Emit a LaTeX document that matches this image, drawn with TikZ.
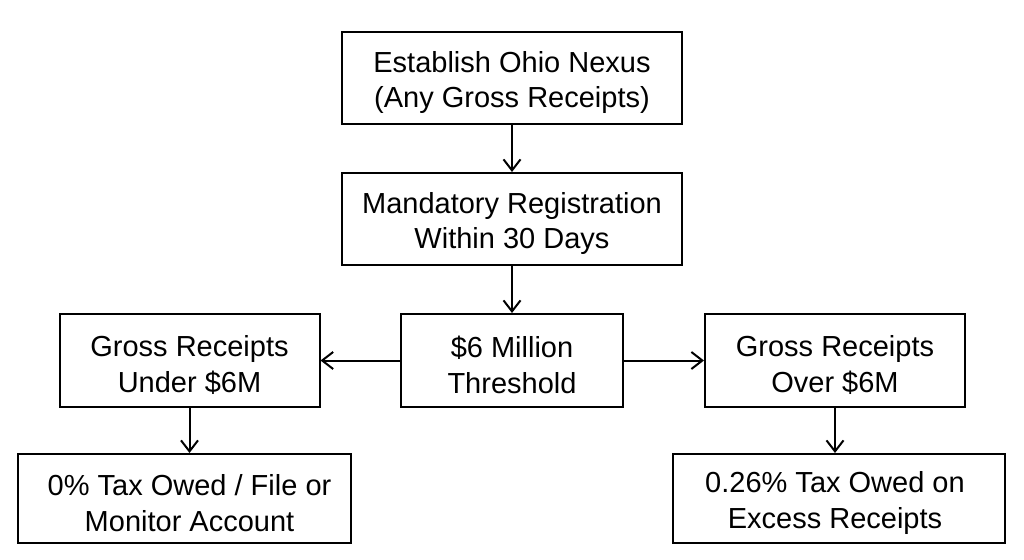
\documentclass[tikz,border=0pt]{standalone}
\usepackage{fontspec}
\setmainfont{Liberation Sans}
\usetikzlibrary{arrows.meta}
\begin{document}
\begin{tikzpicture}[x=1pt,y=-1pt,
  box/.style={draw=black, line width=2pt, inner sep=0pt},
  txt/.style={inner sep=0pt, align=center, font=\fontsize{29}{35.5}\selectfont, text=black},
  conn/.style={line width=2pt, -{Straight Barb[length=11pt,width=17pt,line width=2pt]}}]
\useasboundingbox[fill=white] (0,0) rectangle (1024,559);
\node[box, minimum width=340pt, minimum height=92pt] (nexus) at (512,78) {};
\node[box, minimum width=340pt, minimum height=92pt] (reg) at (512,219) {};
\node[box, minimum width=222pt, minimum height=93pt] (thr) at (512,360.5) {};
\node[box, minimum width=260pt, minimum height=93pt] (under) at (189.5,360.5) {};
\node[box, minimum width=260pt, minimum height=93pt] (over) at (835,360.5) {};
\node[box, minimum width=333pt, minimum height=89pt] (zero) at (184.5,498.5) {};
\node[box, minimum width=332pt, minimum height=89pt] (tax) at (839,498.5) {};
\node[txt] (nexus-t) at ([yshift=-4.5pt]nexus.center) {Establish Ohio Nexus\\(Any Gross Receipts)};
\node[txt] (reg-t) at ([yshift=-4.5pt]reg.center) {Mandatory Registration\\Within 30 Days};
\node[txt] (thr-t) at ([yshift=-4.5pt]thr.center) {\$6 Million\\Threshold};
\node[txt] (under-t) at ([yshift=-4.5pt]under.center) {Gross Receipts\\Under \$6M};
\node[txt] (over-t) at ([yshift=-4.5pt]over.center) {Gross Receipts\\Over \$6M};
\node[txt] (zero-t) at ([yshift=-4.5pt]under.center |- zero.center) {0\% Tax Owed / File or\\Monitor Account};
\node[txt] (tax-t) at ([yshift=-4.5pt]over.center |- tax.center) {0.26\% Tax Owed on\\Excess Receipts};
\draw[conn] (nexus.south) -- (reg.north);
\draw[conn] (reg.south) -- (thr.north);
\draw[conn] (thr.west) -- (under.east);
\draw[conn] (thr.east) -- (over.west);
\draw[conn] (under.south) -- (under.south |- zero.north);
\draw[conn] (over.south) -- (over.south |- tax.north);
\end{tikzpicture}
\end{document}
